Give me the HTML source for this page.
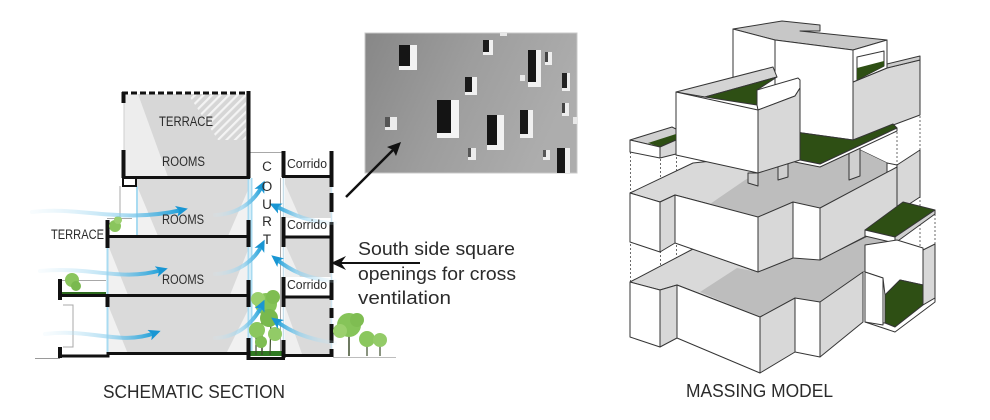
<!DOCTYPE html>
<html><head><meta charset="utf-8"><style>
html,body{margin:0;padding:0;background:#fff;width:990px;height:420px;overflow:hidden}
svg{display:block}
text{font-family:"Liberation Sans",sans-serif;fill:#2b2b2b}
</style></head><body>
<svg xmlns="http://www.w3.org/2000/svg" width="990" height="420" viewBox="0 0 990 420">
<defs>
<pattern id="hatch" patternUnits="userSpaceOnUse" width="6" height="6" patternTransform="rotate(45)">
<rect width="6" height="6" fill="#d6d6d6"/><rect x="0" y="0" width="2.2" height="6" fill="#f4f4f4"/>
</pattern>
<linearGradient id="gR" x1="0" y1="0" x2="1" y2="0"><stop offset="0" stop-color="#cfeaf7" stop-opacity="0.15"/><stop offset="0.6" stop-color="#8fd0ee" stop-opacity="0.7"/><stop offset="1" stop-color="#1d9fd9"/></linearGradient>
<linearGradient id="gL" x1="1" y1="0" x2="0" y2="0"><stop offset="0" stop-color="#cfeaf7" stop-opacity="0.15"/><stop offset="0.6" stop-color="#8fd0ee" stop-opacity="0.7"/><stop offset="1" stop-color="#1d9fd9"/></linearGradient>
<marker id="ah" markerWidth="13" markerHeight="11" refX="6" refY="0" viewBox="0 -5.5 13 11" orient="auto" markerUnits="userSpaceOnUse"><path d="M0,-5.5 L12,0 L0,5.5 L3,0 z" fill="#1996d3"/></marker>
<linearGradient id="photo" x1="0" y1="0" x2="1" y2="0.3"><stop offset="0" stop-color="#878787"/><stop offset="0.5" stop-color="#9d9d9d"/><stop offset="1" stop-color="#adadad"/></linearGradient>
</defs>

<!-- ============ SCHEMATIC SECTION ============ -->
<line x1="35" y1="358.5" x2="60" y2="358.5" stroke="#9a9a9a" stroke-width="1"/>
<line x1="333" y1="357.5" x2="396" y2="357.5" stroke="#bdbdbd" stroke-width="1"/>

<rect x="124" y="94" width="124" height="83" fill="#d7d7d7"/>
<polygon points="124,94 138,94 168,177 124,177" fill="#ededed"/>
<polygon points="188,94 246,94 246,140 218,140" fill="url(#hatch)"/>
<rect x="137" y="178" width="111" height="58" fill="#dadada"/>
<polygon points="137,186 137,236 158,236" fill="#f1f1f1"/>
<polygon points="248,190 248,236 228,236" fill="#f1f1f1"/>
<rect x="108" y="237" width="140" height="58" fill="#dadada"/>
<polygon points="108,245 108,295 128,295" fill="#f1f1f1"/>
<polygon points="248,250 248,295 230,295" fill="#f1f1f1"/>
<rect x="108" y="297" width="140" height="57" fill="#dadada"/>
<polygon points="108,305 108,354 128,354" fill="#f1f1f1"/>
<polygon points="248,310 248,354 226,354" fill="#f1f1f1"/>
<rect x="285" y="178" width="46" height="40" fill="#dadada"/>
<polygon points="285,184 285,218 300,218" fill="#efefef"/>
<rect x="285" y="238" width="46" height="39" fill="#dadada"/>
<polygon points="285,244 285,277 300,277" fill="#efefef"/>
<rect x="285" y="298" width="46" height="56" fill="#dadada"/>
<polygon points="285,306 285,354 302,354" fill="#efefef"/>

<g stroke="#a8a8a8" stroke-width="1" fill="none">
<line x1="120" y1="186" x2="120" y2="218"/>
<line x1="107" y1="218.5" x2="132" y2="218.5"/>
<line x1="62" y1="280.5" x2="106" y2="280.5"/>
<polyline points="63,305 73,305 73,347 63,347"/>
<line x1="250" y1="152.5" x2="283" y2="152.5"/>
<line x1="280.5" y1="178" x2="280.5" y2="352"/>
</g>
<g stroke="#a9dbf1" stroke-width="2" fill="none">
<line x1="137" y1="186" x2="137" y2="236"/>
<line x1="107.5" y1="248" x2="107.5" y2="356"/>
<line x1="124" y1="103" x2="124" y2="150" stroke="#cfcfcf" stroke-width="1"/>
<line x1="251.5" y1="178" x2="251.5" y2="352"/>
<line x1="248.5" y1="178" x2="248.5" y2="220"/>
<line x1="248.5" y1="247" x2="248.5" y2="280"/>
<line x1="248.5" y1="307" x2="248.5" y2="338"/>
<line x1="283.5" y1="177" x2="283.5" y2="355" stroke="#c8dfea" stroke-width="1.5"/>
<line x1="331.5" y1="152" x2="331.5" y2="356" stroke="#cfe6f1" stroke-width="1.5"/>
</g>

<rect x="62" y="292" width="44" height="3" fill="#2e6b1e"/>
<rect x="250" y="351" width="32" height="5" fill="#2f7a22"/>

<g stroke="#111" stroke-width="4" fill="none">
<line x1="122" y1="93" x2="250" y2="93" stroke-dasharray="6,3" stroke-width="3"/>
<line x1="123.5" y1="92" x2="123.5" y2="103"/>
<line x1="123.5" y1="150" x2="123.5" y2="178"/>
<line x1="248.5" y1="91" x2="248.5" y2="178"/>
<line x1="122" y1="177.5" x2="250" y2="177.5" stroke-width="3"/>
<rect x="123" y="178" width="13" height="8" stroke-width="2" fill="#fff"/>
<line x1="248.5" y1="220" x2="248.5" y2="247"/>
<line x1="106" y1="236.5" x2="250" y2="236.5" stroke-width="3"/>
<line x1="107.5" y1="220" x2="107.5" y2="248"/>
<line x1="248.5" y1="280" x2="248.5" y2="307"/>
<line x1="58" y1="295.5" x2="250" y2="295.5" stroke-width="3"/>
<line x1="60" y1="279" x2="60" y2="300"/>
<line x1="60" y1="347" x2="60" y2="358"/>
<line x1="107.5" y1="295" x2="107.5" y2="307"/>
<polyline points="58,356 108,356 108,353.5 250,353.5" stroke-width="3"/>
<line x1="248.5" y1="338" x2="248.5" y2="360"/>
<polyline points="248.5,350 248.5,358.5 283.5,358.5 283.5,350" stroke-width="3"/>
<line x1="283.5" y1="151" x2="283.5" y2="177"/>
<line x1="283.5" y1="217" x2="283.5" y2="247"/>
<line x1="283.5" y1="277" x2="283.5" y2="307"/>
<line x1="283.5" y1="340" x2="283.5" y2="358"/>
<line x1="331.5" y1="151" x2="331.5" y2="187"/>
<line x1="331.5" y1="193" x2="331.5" y2="212"/>
<line x1="331.5" y1="222" x2="331.5" y2="273"/>
<line x1="331.5" y1="280" x2="331.5" y2="300"/>
<line x1="331.5" y1="308" x2="331.5" y2="318"/>
<line x1="331.5" y1="324" x2="331.5" y2="343"/>
<line x1="331.5" y1="349" x2="331.5" y2="357"/>
<line x1="282" y1="176.5" x2="333" y2="176.5" stroke-width="3"/>
<line x1="282" y1="237" x2="333" y2="237" stroke-width="3"/>
<line x1="282" y1="297" x2="333" y2="297" stroke-width="3"/>
<line x1="282" y1="355.5" x2="333" y2="355.5" stroke-width="3"/>
</g>

<g>
<line x1="262" y1="355" x2="262" y2="298" stroke="#3d4d2c" stroke-width="1.5"/>
<line x1="270" y1="355" x2="271" y2="318" stroke="#3d4d2c" stroke-width="1.2"/>
<line x1="256" y1="355" x2="256" y2="332" stroke="#3d4d2c" stroke-width="1.2"/>
<circle cx="266" cy="304" r="11" fill="#86c459"/>
<circle cx="258" cy="299" r="7" fill="#9bd06d"/>
<circle cx="273" cy="297" r="7" fill="#7fbd52"/>
<circle cx="269" cy="318" r="9" fill="#79b94e"/>
<circle cx="257" cy="330" r="8" fill="#8bc75e"/>
<circle cx="275" cy="334" r="7" fill="#92cb67"/>
<circle cx="261" cy="342" r="6" fill="#7fbd52"/>
<line x1="349" y1="356" x2="349" y2="328" stroke="#3d4d2c" stroke-width="1.5"/>
<circle cx="349" cy="325" r="12" fill="#86c459"/>
<circle cx="340" cy="331" r="7" fill="#9bd06d"/>
<circle cx="357" cy="320" r="7" fill="#7fbd52"/>
<line x1="367" y1="356" x2="367" y2="340" stroke="#3d4d2c" stroke-width="1.2"/>
<circle cx="367" cy="339" r="8" fill="#8bc75e"/>
<line x1="380" y1="356" x2="380" y2="342" stroke="#3d4d2c" stroke-width="1.2"/>
<circle cx="380" cy="340" r="7" fill="#93cb68"/>
<circle cx="115" cy="226" r="6" fill="#8ac55d"/>
<circle cx="118" cy="220" r="4" fill="#9ccf70"/>
<circle cx="72" cy="280" r="7" fill="#8ac55d"/>
<circle cx="76" cy="286" r="5" fill="#7ab94f"/>
</g>

<g fill="none" stroke-width="4" stroke-linecap="round" marker-end="url(#ah)">
<path d="M32,212 C80,206 120,224 182,210" stroke="url(#gR)"/>
<path d="M215,215 C240,214 255,200 262,186" stroke="url(#gR)"/>
<path d="M335,223 C310,223 292,214 275,206" stroke="url(#gL)"/>
<path d="M40,271 C90,266 120,282 162,270" stroke="url(#gR)"/>
<path d="M215,274 C240,273 255,259 262,245" stroke="url(#gR)"/>
<path d="M335,281 C306,279 290,270 276,259" stroke="url(#gL)"/>
<path d="M45,334 C90,328 120,346 155,333" stroke="url(#gR)"/>
<path d="M215,338 C240,337 255,320 262,305" stroke="url(#gR)"/>
<path d="M335,343 C306,339 290,331 276,321" stroke="url(#gL)"/>
</g>

<g font-size="13.5">
<text x="159" y="126" textLength="54" lengthAdjust="spacingAndGlyphs">TERRACE</text>
<text x="162" y="166" textLength="43" lengthAdjust="spacingAndGlyphs">ROOMS</text>
<text x="162" y="224" textLength="42" lengthAdjust="spacingAndGlyphs">ROOMS</text>
<text x="162" y="284" textLength="42" lengthAdjust="spacingAndGlyphs">ROOMS</text>
<text x="51" y="239" textLength="53" lengthAdjust="spacingAndGlyphs">TERRACE</text>
</g>
<g font-size="13">
<text x="287" y="168" textLength="40" lengthAdjust="spacingAndGlyphs">Corrido</text>
<text x="287" y="229" textLength="40" lengthAdjust="spacingAndGlyphs">Corrido</text>
<text x="287" y="289" textLength="40" lengthAdjust="spacingAndGlyphs">Corrido</text>
</g>
<g font-size="13.5" text-anchor="middle">
<text x="267" y="171">C</text>
<text x="267" y="191">O</text>
<text x="267" y="209">U</text>
<text x="267" y="226">R</text>
<text x="267" y="244">T</text>
</g>
<text x="103" y="398" font-size="18" textLength="182" lengthAdjust="spacingAndGlyphs">SCHEMATIC SECTION</text>

<!-- ============ PHOTO ============ -->
<g>
<rect x="365" y="33" width="212" height="140" fill="url(#photo)"/>
<rect x="365" y="33" width="212" height="140" fill="none" stroke="#c8c8c8" stroke-width="1"/>
<g>
<rect x="399" y="45" width="18" height="25" fill="#f2f2f2"/><rect x="399" y="45" width="11" height="21" fill="#151515"/>
<rect x="483" y="40" width="10" height="15" fill="#f0f0f0"/><rect x="483" y="40" width="6" height="12" fill="#1a1a1a"/>
<rect x="528" y="50" width="13" height="37" fill="#f0f0f0"/><rect x="528" y="50" width="8" height="32" fill="#151515"/>
<rect x="545" y="52" width="7" height="13" fill="#eeeeee"/><rect x="545" y="52" width="3" height="10" fill="#444"/>
<rect x="465" y="77" width="12" height="18" fill="#f0f0f0"/><rect x="465" y="77" width="7" height="15" fill="#1a1a1a"/>
<rect x="562" y="73" width="8" height="18" fill="#eeeeee"/><rect x="562" y="73" width="5" height="15" fill="#222"/>
<rect x="437" y="100" width="22" height="38" fill="#f3f3f3"/><rect x="437" y="100" width="14" height="33" fill="#141414"/>
<rect x="385" y="117" width="12" height="13" fill="#ececec"/><rect x="385" y="117" width="5" height="10" fill="#555"/>
<rect x="487" y="115" width="17" height="35" fill="#f2f2f2"/><rect x="487" y="115" width="10" height="30" fill="#151515"/>
<rect x="520" y="110" width="13" height="28" fill="#f0f0f0"/><rect x="520" y="110" width="8" height="24" fill="#181818"/>
<rect x="562" y="103" width="7" height="13" fill="#eeeeee"/><rect x="562" y="103" width="3" height="10" fill="#444"/>
<rect x="468" y="148" width="8" height="12" fill="#ececec"/><rect x="468" y="148" width="3" height="9" fill="#555"/>
<rect x="543" y="150" width="7" height="10" fill="#ececec"/><rect x="543" y="150" width="3" height="7" fill="#555"/>
<rect x="557" y="148" width="13" height="25" fill="#efefef"/><rect x="557" y="148" width="8" height="25" fill="#161616"/>
<rect x="520" y="75" width="5" height="6" fill="#e8e8e8"/>
<rect x="573" y="117" width="4" height="7" fill="#e8e8e8"/>
<rect x="500" y="33" width="7" height="3" fill="#e8e8e8"/>
</g>
</g>
<line x1="346" y1="197" x2="393" y2="150" stroke="#111" stroke-width="2.5"/>
<polygon points="401,142 387,147 393,150 396,156" fill="#111"/>
<line x1="420" y1="263" x2="341" y2="263" stroke="#111" stroke-width="2"/>
<polygon points="331,263 346,256 341,263 346,270" fill="#111"/>
<g font-size="18.5" fill="#222">
<text x="358" y="255" textLength="157" lengthAdjust="spacingAndGlyphs">South side square</text>
<text x="358" y="280" textLength="158" lengthAdjust="spacingAndGlyphs">openings for cross</text>
<text x="358" y="304" textLength="93" lengthAdjust="spacingAndGlyphs">ventilation</text>
</g>

<!-- ============ MASSING MODEL ============ -->
<g stroke="#6a6a6a" stroke-width="1" stroke-dasharray="2,2" fill="none">
<line x1="630.5" y1="140" x2="630.5" y2="337"/>
<line x1="660.5" y1="147" x2="660.5" y2="347"/>
<line x1="676.5" y1="137" x2="676.5" y2="338"/>
<line x1="758.5" y1="173" x2="758.5" y2="217"/>
<line x1="760" y1="272" x2="760" y2="317"/>
<line x1="795" y1="160" x2="795" y2="202"/>
<line x1="795" y1="258" x2="795" y2="298"/>
<line x1="820" y1="163" x2="820" y2="208"/>
<line x1="820" y1="260" x2="820" y2="302"/>
<line x1="863" y1="220" x2="863" y2="272"/>
<line x1="897" y1="128" x2="897" y2="250"/>
<line x1="920" y1="60" x2="920" y2="250"/>
<line x1="935" y1="210" x2="935" y2="245"/>
<line x1="893" y1="240" x2="893" y2="290"/>
<line x1="630" y1="242" x2="693" y2="212"/>
<line x1="693" y1="212" x2="693" y2="249"/>
</g>
<g stroke="#353535" stroke-width="1" stroke-linejoin="round">
<polygon points="630,282 693,249 758,272 793,258 820,260 897,222 897,245 863,272 820,302 795,298 760,317 677,285 660,290" fill="#d9d9d9"/>
<polygon points="700,292 737,268 758,272 793,258 820,260 897,222 897,245 863,272 820,302 795,298 760,317" fill="#bdbdbd" stroke="none"/>
<polygon points="853,82 887,68 920,60 920,115 853,140" fill="#d8d8d8"/>
<polygon points="887,64 920,56 920,60 887,68" fill="#cbcbcb"/>
<polygon points="733,29 782,21 820,25 820,31 800,31 887,40 853,50 775,40" fill="#c7c7c7"/>
<polygon points="733,29 775,40 775,92 733,92" fill="#fff"/>
<polygon points="775,40 853,50 853,140 795,132 775,128" fill="#fff"/>
<polygon points="853,50 887,40 887,68 853,82" fill="#fff"/>
<polygon points="857,57 884,51 884,66 857,80" fill="#fff"/>
<polygon points="857,68 884,61 884,66 857,80" fill="#2e4f14" stroke="none"/>
<polygon points="630,193 693,163 712,161 758,173 795,160 820,164 860,150 887,163 897,167 820,208 793,202 758,217 675,195 660,202" fill="#d9d9d9"/>
<polygon points="710,204 745,180 758,173 795,160 820,164 860,150 887,163 897,167 820,208 793,202 758,217" fill="#bdbdbd" stroke="none"/>
<polygon points="778,163 788,160 788,177 778,180" fill="#d0d0d0"/>
<polygon points="748,173 758,173 758,186 748,183" fill="#d0d0d0"/>
<polygon points="849,150 860,145 860,176 849,180" fill="#d0d0d0"/>
<polygon points="795,132 853,140 893,124 897,128 820,164 795,159" fill="#2e4f14"/>
<polygon points="795,159 820,164 897,128 897,131 820,167 795,162" fill="#fff"/>
<polygon points="887,163 897,165 897,212 887,209" fill="#fff"/>
<polygon points="897,165 920,150 920,197 897,212" fill="#d8d8d8"/>
<polygon points="676,92 773,67 777,77 705,97" fill="#d4d4d4"/>
<polygon points="705,97 777,77 757,90 757,105" fill="#2e4f14"/>
<polygon points="757,90 798,78 800,80 800,88 795,96 758,110 757,105" fill="#fff"/>
<polygon points="676,92 758,110 758,173 676,155" fill="#fff"/>
<polygon points="758,110 795,96 800,88 800,160 758,173" fill="#d8d8d8"/>
<polygon points="630,140 672,127 676,129 676,140 660,147" fill="#d0d0d0"/>
<polygon points="648,143 676,134 676,140 660,147" fill="#2e4f14" stroke="none"/>
<polygon points="630,140 660,147 660,158 630,152" fill="#fff"/>
<polygon points="660,147 676,140 676,154 660,158" fill="#d8d8d8"/>
<polygon points="630,193 660,202 660,252 630,242" fill="#fff"/>
<polygon points="660,202 675,195 675,243 660,252" fill="#d8d8d8"/>
<polygon points="675,195 758,217 758,272 675,243" fill="#fff"/>
<polygon points="758,217 793,202 793,258 758,272" fill="#d8d8d8"/>
<polygon points="793,202 820,208 820,260 793,258" fill="#fff"/>
<polygon points="820,208 897,167 897,220 820,260" fill="#d8d8d8"/>
<polygon points="865,230 903,202 935,210 895,237" fill="#2e4f14"/>
<polygon points="865,230 895,237 895,243 865,236" fill="#fff"/>
<polygon points="895,237 935,210 935,214 895,243" fill="#d0d0d0"/>
<polygon points="865,245 897,240 923,248 923,285 900,280 885,295 883,278 865,272" fill="#fff"/>
<polygon points="923,250 935,244 935,298 923,305" fill="#d8d8d8"/>
<polygon points="885,295 900,280 923,285 923,305 895,327 885,323" fill="#2e4f14"/>
<polygon points="865,322 885,323 895,327 923,305 935,298 935,302 895,332" fill="#fff"/>
<polygon points="865,272 883,278 883,325 865,322" fill="#fff"/>
<polygon points="630,282 660,290 660,347 630,337" fill="#fff"/>
<polygon points="660,290 677,285 677,338 660,347" fill="#d8d8d8"/>
<polygon points="677,285 760,317 760,373 677,338" fill="#fff"/>
<polygon points="760,317 795,298 795,352 760,373" fill="#d8d8d8"/>
<polygon points="795,298 820,302 820,357 795,352" fill="#fff"/>
<polygon points="820,302 863,272 863,322 820,357" fill="#d8d8d8"/>
</g>
<text x="686" y="397" font-size="18" textLength="147" lengthAdjust="spacingAndGlyphs">MASSING MODEL</text>
</svg>
</body></html>
